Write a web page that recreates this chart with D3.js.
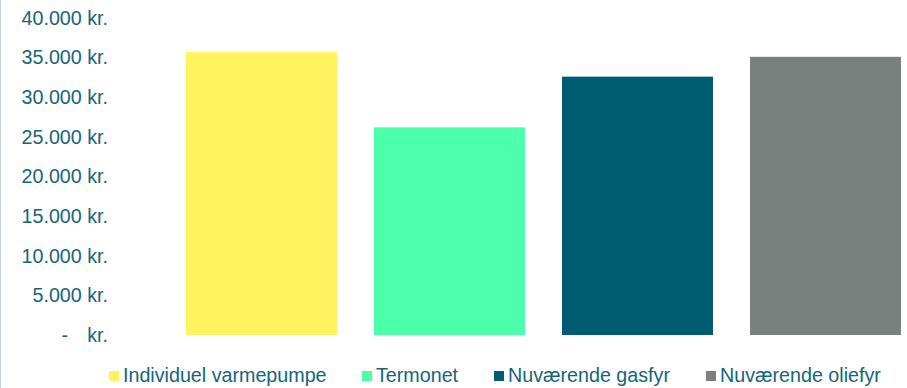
<!DOCTYPE html>
<html>
<head>
<meta charset="utf-8">
<script src="https://cdn.jsdelivr.net/npm/d3@7"></script>
<style>
  html, body { margin: 0; padding: 0; background: #fff; }
  svg { display: block; font-family: "Liberation Sans", Arial, sans-serif; }
</style>
</head>
<body>
<svg id="chart" width="907" height="388"></svg>
<script>
// Annual heating cost per solution (DKK)
const categories = ["Individuel varmepumpe", "Termonet", "Nuværende gasfyr", "Nuværende oliefyr"];
const values = [35700, 26200, 32600, 35100];
const colors = ["#fff45f", "#4bffab", "#005c70", "#7a807e"];
const yTicks = [0, 5000, 10000, 15000, 20000, 25000, 30000, 35000, 40000];

const textColor = "#15657a";
const fontSize = "19.7px";
const svg = d3.select("#chart");

// thin frame line on the left edge
svg.append("line")
  .attr("x1", 0.5).attr("x2", 0.5).attr("y1", 0).attr("y2", 388)
  .attr("stroke", "#c3d2da").attr("stroke-width", 1);

const y = d3.scaleLinear().domain([0, 40000]).range([335, 18]);
const x = d3.scaleBand().domain(categories)
  .range([167.5, 919.5]).paddingInner(0.197).paddingOuter(0.0985);

// value axis: Danish thousands separator, "kr." suffix, dash for zero
const fmt = d3.formatLocale({ decimal: ",", thousands: ".", grouping: [3], currency: ["", " kr."] }).format(",.0f");
const yAxis = d3.axisLeft(y).tickValues(yTicks).tickSize(0).tickPadding(0)
  .tickFormat(d => d === 0 ? "" : fmt(d) + " kr.");
const gy = svg.append("g").attr("transform", "translate(108,0)").call(yAxis);
gy.select(".domain").remove();
gy.selectAll("text")
  .attr("fill", textColor).style("font-size", fontSize)
  .attr("font-family", "Liberation Sans, Arial, sans-serif");
// zero label in accounting style
const zeroTick = gy.selectAll(".tick").filter(d => d === 0);
zeroTick.append("text").attr("x", -40).attr("dy", "0.32em")
  .attr("text-anchor", "end").attr("fill", textColor).style("font-size", fontSize)
  .text("-");
zeroTick.append("text").attr("x", 0).attr("dy", "0.32em")
  .attr("text-anchor", "end").attr("fill", textColor).style("font-size", fontSize)
  .text("kr.");

// bars
svg.append("g").selectAll("rect").data(categories).join("rect")
  .attr("x", d => x(d))
  .attr("width", x.bandwidth())
  .attr("y", (d, i) => y(values[i]))
  .attr("height", (d, i) => y(0) - y(values[i]))
  .attr("fill", (d, i) => colors[i]);

// legend
const legendX = [109, 362, 494, 706];
const legend = svg.append("g").selectAll("g").data(categories).join("g")
  .attr("transform", (d, i) => `translate(${legendX[i]},371)`);
legend.append("rect").attr("width", 10).attr("height", 10)
  .attr("fill", (d, i) => colors[i]);
legend.append("text").attr("x", 14).attr("y", 11)
  .attr("fill", textColor).style("font-size", fontSize)
  .text(d => d);
</script>
</body>
</html>
